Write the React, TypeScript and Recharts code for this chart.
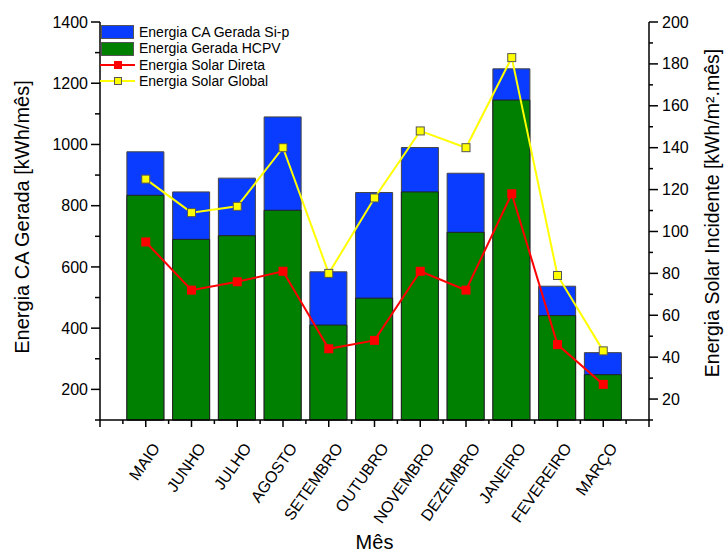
import React from 'react';
import {
  ComposedChart, Bar, Line, XAxis, YAxis, Legend, Label,
} from 'recharts';

// Meses e séries
const months = ['MAIO', 'JUNHO', 'JULHO', 'AGOSTO', 'SETEMBRO', 'OUTUBRO', 'NOVEMBRO', 'DEZEMBRO', 'JANEIRO', 'FEVEREIRO', 'MARÇO'];
const energiaSip = [976, 845, 890, 1090, 584, 843, 990, 906, 1247, 537, 320];
const energiaHcpv = [834, 690, 702, 785, 410, 498, 845, 713, 1145, 441, 248];
const solarDireta = [95, 72, 76, 81, 44, 48, 81, 72, 118, 46, 27];
const solarGlobal = [125, 109, 112, 140, 80, 116, 148, 140, 183, 79, 43];

// ticks do eixo X: inteiros = meses (maiores), meios = separadores (menores)
const xBarTicks = [-1, 0, 1, 2, 3, 4, 5, 6, 7, 8, 9, 10, 11];
const xAllTicks = [-1, -0.5, 0, 0.5, 1, 1.5, 2, 2.5, 3, 3.5, 4, 4.5, 5, 5.5, 6, 6.5, 7, 7.5, 8, 8.5, 9, 9.5, 10, 10.5, 11];
const leftTicks = [100, 200, 300, 400, 500, 600, 700, 800, 900, 1000, 1100, 1200, 1300, 1400];
const rightTicks = [10, 20, 30, 40, 50, 60, 70, 80, 90, 100, 110, 120, 130, 140, 150, 160, 170, 180, 190, 200];

const data = months.map((m, i) => ({
  idx: i,
  mes: m,
  sip: energiaSip[i],
  hcpv: energiaHcpv[i],
  direta: solarDireta[i],
  global: solarGlobal[i],
}));

const FONT = '"Liberation Sans", Arial, Helvetica, sans-serif';
const BLUE = '#0a3cff';
const GREEN = '#008000';
const RED = '#ff0000';
const YELLOW = '#ffff00';

function XTick({ x, y, payload }: any) {
  const v = payload.value;
  const major = Number.isInteger(v);
  const label = major && v >= 0 && v < months.length ? months[v] : null;
  const tx = x + 15;
  const ty = y + 28;
  return (
    <g>
      <line x1={x} y1={y} x2={x} y2={y + (major ? 7 : 4)} stroke="#000" strokeWidth={1.5} />
      {label && (
        <text
          x={tx} y={ty}
          transform={`rotate(-55 ${tx} ${ty})`}
          textAnchor="end"
          fontSize={16}
          fontFamily={FONT}
          fill="#000"
        >
          {label}
        </text>
      )}
    </g>
  );
}

function LeftTick({ x, y, payload }: any) {
  const major = payload.value % 200 === 0;
  return (
    <g>
      <line x1={x} y1={y} x2={x - (major ? 9 : 5)} y2={y} stroke="#000" strokeWidth={1.5} />
      {major && (
        <text x={x - 12} y={y} dy="0.35em" textAnchor="end" fontSize={16} fontFamily={FONT} fill="#000">
          {payload.value}
        </text>
      )}
    </g>
  );
}

function RightTick({ x, y, payload }: any) {
  const major = payload.value % 20 === 0;
  return (
    <g>
      <line x1={x} y1={y} x2={x + (major ? 9 : 4)} y2={y} stroke="#000" strokeWidth={1.5} />
      {major && (
        <text x={x + 13} y={y} dy="0.35em" textAnchor="start" fontSize={16} fontFamily={FONT} fill="#000">
          {payload.value}
        </text>
      )}
    </g>
  );
}

const yTitle = (text: string, dx: number, dy: number, size: number) => (props: any) => {
  const vb = props.viewBox;
  const x = vb.x + dx;
  const y = vb.y + vb.height / 2 + dy;
  return (
    <text
      x={x} y={y}
      transform={`rotate(-90 ${x} ${y})`}
      textAnchor="middle"
      dominantBaseline="central"
      fontSize={size}
      fontFamily={FONT}
      fill="#000"
    >
      {text}
    </text>
  );
};

const xTitle = (props: any) => {
  const vb = props.viewBox;
  return (
    <text
      x={vb.x + vb.width / 2} y={vb.y + 122}
      textAnchor="middle"
      dominantBaseline="central"
      fontSize={20}
      fontFamily={FONT}
      fill="#000"
    >
      Mês
    </text>
  );
};

const squareDot = (fill: string, size: number, stroke?: string) => (p: any) => (
  <rect
    key={p.index}
    x={p.cx - size / 2}
    y={p.cy - size / 2}
    width={size}
    height={size}
    fill={fill}
    stroke={stroke || 'none'}
    strokeWidth={1}
  />
);

const legendItems = [
  { name: 'Energia CA Gerada Si-p', kind: 'bar', color: BLUE },
  { name: 'Energia Gerada HCPV', kind: 'bar', color: GREEN },
  { name: 'Energia Solar Direta', kind: 'line', color: RED },
  { name: 'Energia Solar Global', kind: 'line', color: YELLOW },
];

function renderLegend() {
  return (
    <div style={{ fontFamily: FONT, fontSize: 14, color: '#000', lineHeight: '16.4px' }}>
      {legendItems.map((it) => (
        <div key={it.name} style={{ display: 'flex', alignItems: 'center', height: 16.4 }}>
          <svg width={38} height={16} style={{ display: 'block' }}>
            {it.kind === 'bar' ? (
              <rect x={1.5} y={1.5} width={32} height={13} fill={it.color} stroke="#555" strokeWidth={1} />
            ) : (
              <g>
                <line x1={0} y1={8} x2={35} y2={8} stroke={it.color} strokeWidth={2} />
                {it.color === RED ? (
                  <rect x={14} y={4} width={8} height={8} fill={RED} />
                ) : (
                  <rect x={14.5} y={4.5} width={7} height={7} fill={YELLOW} stroke="#555" strokeWidth={1} />
                )}
              </g>
            )}
          </svg>
          <span style={{ marginLeft: 1 }}>{it.name}</span>
        </div>
      ))}
    </div>
  );
}

export default function App() {
  return (
    <div style={{ position: 'absolute', left: 0, top: 0, width: 725, height: 553, background: '#fff' }}>
      <ComposedChart
        width={725}
        height={553}
        data={data}
        margin={{ top: 22, right: 0, bottom: 0, left: 0 }}
      >
        <XAxis
          xAxisId="main"
          type="number"
          dataKey="idx"
          domain={[-1, 11]}
          ticks={xAllTicks}
          interval={0}
          height={133}
          axisLine={{ stroke: '#000', strokeWidth: 1.5 }}
          tickLine={false}
          tickSize={0}
          tickMargin={0}
          tick={<XTick />}
        >
          <Label content={xTitle} />
        </XAxis>
        <XAxis xAxisId="back" type="number" dataKey="idx" domain={[-1, 11]} ticks={xBarTicks} height={0} hide />
        <XAxis xAxisId="front" type="number" dataKey="idx" domain={[-1, 11]} ticks={xBarTicks} height={0} hide />
        <YAxis
          yAxisId="left"
          orientation="left"
          width={100}
          domain={[100, 1400]}
          ticks={leftTicks}
          interval={0}
          axisLine={{ stroke: '#000', strokeWidth: 1.5 }}
          tickLine={false}
          tickSize={0}
          tickMargin={0}
          tick={<LeftTick />}
        >
          <Label content={yTitle('Energia CA Gerada [kWh/mês]', 22, -4, 20)} />
        </YAxis>
        <YAxis
          yAxisId="right"
          orientation="right"
          width={76}
          domain={[10, 200]}
          ticks={rightTicks}
          interval={0}
          axisLine={{ stroke: '#000', strokeWidth: 1.5 }}
          tickLine={false}
          tickSize={0}
          tickMargin={0}
          tick={<RightTick />}
        >
          <Label content={yTitle('Energia Solar Incidente [kWh/m².mês]', 63, -8, 19.5)} />
        </YAxis>
        <Legend
          layout="vertical"
          align="center"
          verticalAlign="middle"
          content={renderLegend}
          wrapperStyle={{ position: 'absolute', top: 24, left: 100, width: 240, height: 'auto' }}
        />
        <Bar
          xAxisId="back"
          yAxisId="left"
          dataKey="sip"
          name="Energia CA Gerada Si-p"
          fill={BLUE}
          stroke="#444"
          strokeWidth={1}
          barSize={37}
          isAnimationActive={false}
        />
        <Bar
          xAxisId="front"
          yAxisId="left"
          dataKey="hcpv"
          name="Energia Gerada HCPV"
          fill={GREEN}
          stroke="#222"
          strokeWidth={1}
          barSize={37}
          isAnimationActive={false}
        />
        <Line
          xAxisId="main"
          yAxisId="right"
          dataKey="global"
          name="Energia Solar Global"
          type="linear"
          stroke={YELLOW}
          strokeWidth={2}
          dot={squareDot(YELLOW, 8, '#555')}
          activeDot={false}
          isAnimationActive={false}
        />
        <Line
          xAxisId="main"
          yAxisId="right"
          dataKey="direta"
          name="Energia Solar Direta"
          type="linear"
          stroke={RED}
          strokeWidth={2}
          dot={squareDot(RED, 9)}
          activeDot={false}
          isAnimationActive={false}
        />
      </ComposedChart>
    </div>
  );
}
